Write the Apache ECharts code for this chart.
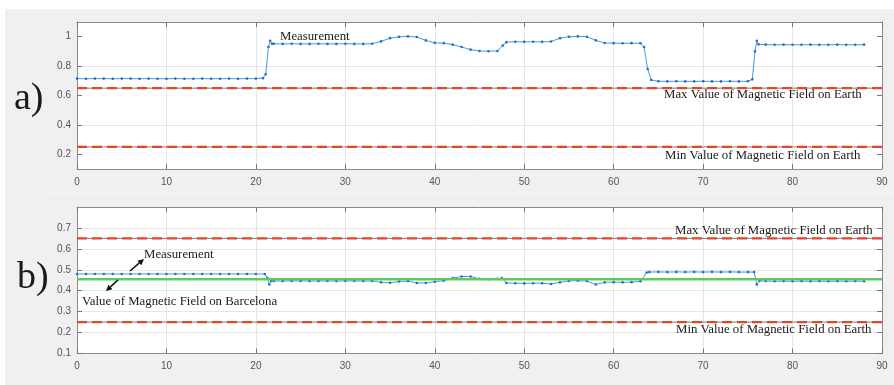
<!DOCTYPE html>
<html><head><meta charset="utf-8">
<script src="https://cdn.jsdelivr.net/npm/echarts@6/dist/echarts.min.js"></script>
<style>html,body{margin:0;padding:0;background:#fff}#c{width:894px;height:385px}</style>
</head><body><div id="c"></div>
<script>
// ---- data ----
const xTicks = [0,10,20,30,40,50,60,70,80,90];
const topYTicks = [0.2,0.4,0.6,0.8,1];
const botYTicks = [0.1,0.2,0.3,0.4,0.5,0.6,0.7];
const earthMax = 0.65;
const earthMin = 0.25;
const barcelona = 0.455;

const topMeasX = [0,1,2,3,4,5,6,7,8,9,10,11,12,13,14,15,16,17,18,19,20,
  20.8,21.1,21.4,21.6,21.8,
  22,23,24,25,26,27,28,29,30,31,32,33,
  34,35,36,37,38,39,40,41,42,43,44,45,46,47,
  47.6,48,
  49,50,51,52,53,
  54,55,56,57,58,59,
  60,61,62,63,
  63.4,63.8,64.2,
  65,66,67,68,69,70,71,72,73,74,75,
  75.5,75.8,76,76.2,
  77,78,79,80,81,82,83,84,85,86,87,88];
const topMeasY = [0.715,0.714,0.715,0.715,0.714,0.715,0.715,0.714,0.715,0.714,0.714,0.715,0.714,0.714,0.715,0.714,0.714,0.715,0.714,0.715,0.715,
  0.718,0.745,0.93,0.972,0.952,
  0.952,0.951,0.952,0.951,0.951,0.952,0.951,0.951,0.952,0.951,0.951,0.952,
  0.968,0.99,0.999,1.002,0.998,0.975,0.958,0.956,0.946,0.93,0.912,0.903,0.901,0.903,
  0.94,0.963,
  0.966,0.965,0.966,0.965,0.967,
  0.99,1.0,1.002,1.0,0.975,0.957,
  0.956,0.955,0.956,0.955,
  0.93,0.78,0.705,
  0.697,0.696,0.697,0.696,0.696,0.697,0.696,0.696,0.697,0.696,0.697,
  0.71,0.9,0.972,0.948,
  0.946,0.945,0.946,0.945,0.945,0.946,0.945,0.945,0.946,0.945,0.945,0.946];

const botMeasX = [0,1,2,3,4,5,6,7,8,9,10,11,12,13,14,15,16,17,18,19,20,21,
  21.3,21.5,21.7,
  22,23,24,25,26,27,28,29,30,31,32,33,34,35,36,37,38,39,40,41,42,43,44,45,46,47,
  47.5,
  48,49,50,51,52,53,54,55,56,57,58,59,60,61,62,63,
  63.7,
  64,65,66,67,68,69,70,71,72,73,74,75,
  75.7,76,76.3,
  77,78,79,80,81,82,83,84,85,86,87,88];
const botMeasY = [0.48,0.48,0.48,0.48,0.48,0.48,0.48,0.48,0.48,0.48,0.48,0.48,0.48,0.48,0.48,0.48,0.48,0.48,0.48,0.48,0.48,0.48,
  0.46,0.43,0.447,
  0.447,0.446,0.447,0.447,0.446,0.447,0.447,0.446,0.447,0.447,0.446,0.447,
  0.44,0.438,0.444,0.446,0.437,0.437,0.443,0.448,0.46,0.468,0.468,0.457,0.455,0.457,
  0.46,
  0.437,0.436,0.435,0.436,0.436,0.432,0.44,0.447,0.448,0.446,0.43,0.44,0.441,0.44,0.441,0.445,
  0.487,
  0.489,0.49,0.489,0.49,0.489,0.49,0.489,0.49,0.489,0.49,0.489,0.489,
  0.489,0.43,0.447,
  0.446,0.445,0.446,0.445,0.446,0.445,0.446,0.445,0.446,0.445,0.446,0.445];

// ---- chart ----
const zip = (xs, ys) => xs.map((x, i) => [x, ys[i]]);
const AX = '#8a8a8a', LBL = '#555', GRID = '#e6e6e6';
const serif = 'Liberation Serif';
const BLUE = '#4a98e0', BLUEDOT = '#2a6fbd', RED = '#e8432b', GREEN = '#5ecb5e';

function xAx(gi, pos, labels) {
  return {
    type: 'value', gridIndex: gi, position: pos, min: 0, max: 90, interval: 10,
    axisLine: { show: true, onZero: false, lineStyle: { color: AX, width: 1 } },
    axisTick: { show: true, inside: true, length: 5, lineStyle: { color: '#777' } },
    axisLabel: { show: labels, color: LBL, fontSize: 10, fontFamily: 'Liberation Sans', margin: 8 },
    splitLine: { show: labels, lineStyle: { color: GRID, width: 1 } }
  };
}
function yAx(gi, pos, min, max, ticks, labels, splitColors) {
  return {
    type: 'value', gridIndex: gi, position: pos, min: min, max: max, interval: 0.1,
    axisLine: { show: true, onZero: false, lineStyle: { color: AX, width: 1 } },
    axisTick: { show: true, inside: true, length: 5, customValues: ticks, lineStyle: { color: '#777' } },
    axisLabel: { show: labels, customValues: ticks, color: LBL, fontSize: 10, fontFamily: 'Liberation Sans', margin: 6,
      formatter: v => String(Math.round(v * 10) / 10) },
    splitLine: { show: !!splitColors, lineStyle: { color: splitColors || GRID, width: 1 } }
  };
}
function refLines(xi, yi, v, z) {
  return [
    { type: 'line', xAxisIndex: xi, yAxisIndex: yi, data: [[0, v], [90, v]], symbol: 'none', silent: true, z: z,
      lineStyle: { color: '#7a7a7a', width: 1 } },
    { type: 'line', xAxisIndex: xi, yAxisIndex: yi, data: [[0, v], [90, v]], symbol: 'none', silent: true, z: z + 1,
      lineStyle: { color: RED, width: 2.2, type: [10, 5] } }
  ];
}
function txt(x, y, s, size, extra) {
  return Object.assign({ type: 'text', x: x, y: y, z: 50,
    style: { text: s, fontFamily: serif, fontSize: size || 12.8, fill: '#1a1a1a', textVerticalAlign: 'middle', textAlign: 'left' } }, extra || {});
}
function arrow(x1, y1, x2, y2) {
  const a = Math.atan2(y2 - y1, x2 - x1), L = 6, W = 3;
  const bx = x2 - L * Math.cos(a), by = y2 - L * Math.sin(a);
  const px = -Math.sin(a) * W, py = Math.cos(a) * W;
  return [
    { type: 'line', z: 50, shape: { x1: x1, y1: y1, x2: bx, y2: by }, style: { stroke: '#111', lineWidth: 1.6 } },
    { type: 'polygon', z: 50, shape: { points: [[x2, y2], [bx + px, by + py], [bx - px, by - py]] }, style: { fill: '#111' } }
  ];
}

const chart = echarts.init(document.getElementById('c'), null, { renderer: 'canvas' });
const option = {
  animation: false,
  backgroundColor: '#ffffff',
  grid: [
    { left: 77, top: 22, width: 805, height: 147, show: true, backgroundColor: '#fff', borderWidth: 0 },
    { left: 77, top: 207, width: 805, height: 146.5, show: true, backgroundColor: '#fff', borderWidth: 0 }
  ],
  xAxis: [xAx(0, 'bottom', true), xAx(0, 'top', false), xAx(1, 'bottom', true), xAx(1, 'top', false)],
  yAxis: [
    yAx(0, 'left', 0.1, 1.1, topYTicks, true, ['rgba(0,0,0,0)', GRID]),
    yAx(0, 'right', 0.1, 1.1, topYTicks, false, null),
    yAx(1, 'left', 0.1, 0.8, botYTicks, true, [GRID]),
    yAx(1, 'right', 0.1, 0.8, botYTicks, false, null)
  ],
  series: [
    ...refLines(0, 0, earthMax, 3), ...refLines(0, 0, earthMin, 3),
    { type: 'line', xAxisIndex: 0, yAxisIndex: 0, data: zip(topMeasX, topMeasY), z: 6,
      symbol: 'circle', symbolSize: 2.6, showSymbol: true,
      lineStyle: { color: BLUE, width: 1 }, itemStyle: { color: BLUEDOT } },
    ...refLines(2, 2, earthMax, 3), ...refLines(2, 2, earthMin, 3),
    { type: 'line', xAxisIndex: 2, yAxisIndex: 2, data: zip(botMeasX, botMeasY), z: 6,
      symbol: 'circle', symbolSize: 2.6, showSymbol: true,
      lineStyle: { color: BLUE, width: 1 }, itemStyle: { color: BLUEDOT } },
    { type: 'line', xAxisIndex: 2, yAxisIndex: 2, data: [[0, barcelona], [90, barcelona]], symbol: 'none', z: 8, silent: true,
      lineStyle: { color: GREEN, width: 2.4 } }
  ],
  graphic: [
    { type: 'rect', z: -1, shape: { x: 5, y: 9, width: 889, height: 376 }, style: { fill: '#f0f0f0' } },
    { type: 'line', z: -1, shape: { x1: 50, y1: 193.5, x2: 894, y2: 193.5 }, style: { stroke: '#f8f8f8', lineWidth: 1 } },
    txt(14, 99, 'a)', 38),
    txt(17, 278, 'b)', 38),
    txt(280, 37, 'Measurement'),
    txt(664, 95, 'Max Value of Magnetic Field on Earth'),
    txt(665, 156, 'Min Value of Magnetic Field on Earth'),
    txt(675, 231, 'Max Value of Magnetic Field on Earth'),
    txt(676, 330, 'Min Value of Magnetic Field on Earth'),
    txt(144, 255, 'Measurement'),
    txt(82, 302, 'Value of Magnetic Field on Barcelona'),
    ...arrow(130, 271, 144, 259),
    ...arrow(118, 280, 106, 291)
  ]
};
chart.setOption(option);
</script>
</body></html>
